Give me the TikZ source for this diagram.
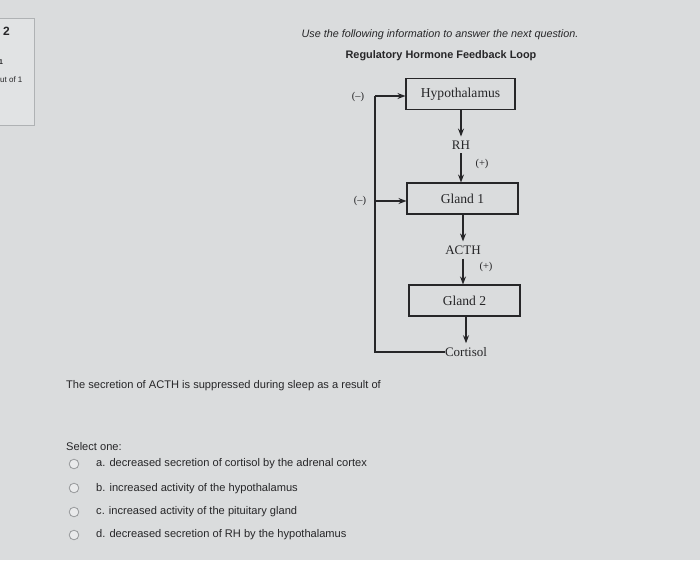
\documentclass[tikz,border=0pt]{standalone}
\usepackage{fontspec}
\setmainfont{Liberation Serif}
\setsansfont{Liberation Sans}
\usetikzlibrary{arrows.meta}
\definecolor{bg}{RGB}{218,220,221}
\definecolor{ink}{RGB}{38,38,40}
\definecolor{panel}{RGB}{175,178,180}
\definecolor{radio}{RGB}{150,152,154}
\begin{document}
\begin{tikzpicture}[x=1pt,y=-1pt,
  every node/.style={inner sep=0pt, text=ink},
  sanstxt/.style={font=\sffamily\fontsize{11.1}{13}\selectfont, anchor=west},
  gbox/.style={draw=ink, line width=1.1pt, minimum height=31pt, font=\fontsize{13.6}{16}\selectfont},
  lbl/.style={font=\fontsize{13}{15}\selectfont, inner ysep=4pt},
  sgn/.style={font=\fontsize{10.5}{12}\selectfont},
  flow/.style={draw=ink, line width=1.1pt, -{Stealth[length=8pt,width=6pt]}},
  fb/.style={draw=ink, line width=1.1pt},
  opt/.style={draw=radio, line width=0.8pt, fill=bg!60!white}]
\fill[bg] (0,0) rectangle (700,560);
\useasboundingbox (0,0) rectangle (700,560);
% left panel
\draw[panel, line width=0.7pt, fill=bg!80!white] (-2,18) rectangle (34,125);
\node[anchor=west, font=\sffamily\bfseries\fontsize{12}{14}\selectfont] (qnum) at (3,31) {2};
\node[anchor=west, font=\sffamily\bfseries\fontsize{7}{8}\selectfont] (qmark) at (-1,62) {1};
\node[anchor=west, font=\sffamily\fontsize{8}{9}\selectfont] (qpts) at (0,80) {ut of 1};
% header
\node[font=\sffamily\itshape\fontsize{10.8}{12}\selectfont] (intro) at (440,35) {Use the following information to answer the next question.};
\node[font=\sffamily\bfseries\fontsize{10.9}{12}\selectfont] (title) at (441,56) {Regulatory Hormone Feedback Loop};
% diagram
\node[gbox, minimum width=109pt] (hyp) at (460.5,94) {Hypothalamus};
\node[lbl] (rh) at (461,145) {RH};
\node[gbox, minimum width=111pt] (g1) at (462.5,198.5) {Gland 1};
\node[lbl] (acth) at (463,250) {ACTH};
\node[gbox, minimum width=111pt] (g2) at (464.5,300.5) {Gland 2};
\node[lbl] (cort) at (466,352) {Cortisol};
\node[sgn] (p1) at (482,164) {(+)};
\node[sgn] (p2) at (486,267) {(+)};
\node[sgn] (m1) at (358,97) {(--)};
\node[sgn] (m2) at (360,201) {(--)};
\draw[flow] (hyp.south -| rh.north) -- (rh.north);
\draw[flow] (rh.south) -- (rh.south |- g1.north);
\draw[flow] (g1.south -| acth.north) -- (acth.north);
\draw[flow] (acth.south) -- (acth.south |- g2.north);
\draw[flow] (g2.south -| cort.north) -- (cort.north);
% feedback
\coordinate (cb) at (375,352);
\coordinate (ct) at (375,96);
\coordinate (cm) at (375,201);
\draw[fb] (cort.west) -- (cb) -- (ct);
\draw[flow] (ct) -- (ct -| hyp.west);
\draw[flow] (cm) -- (cm -| g1.west);
% question
\node[sanstxt] (q) at (66,386) {The secretion of ACTH is suppressed during sleep as a result of};
\node[sanstxt] (sel) at (66,447) {Select one:};
\draw[opt] (74,464) circle (4.8) coordinate (ra);
\draw[opt] (74,488) circle (4.8) coordinate (rb);
\draw[opt] (74,512) circle (4.8) coordinate (rc);
\draw[opt] (74,535) circle (4.8) coordinate (rd);
\node[sanstxt] (oa) at (96,464) {a. decreased secretion of cortisol by the adrenal cortex};
\node[sanstxt] (ob) at (96,489) {b. increased activity of the hypothalamus};
\node[sanstxt] (oc) at (96,512) {c. increased activity of the pituitary gland};
\node[sanstxt] (od) at (96,535) {d. decreased secretion of RH by the hypothalamus};
\end{tikzpicture}
\end{document}
